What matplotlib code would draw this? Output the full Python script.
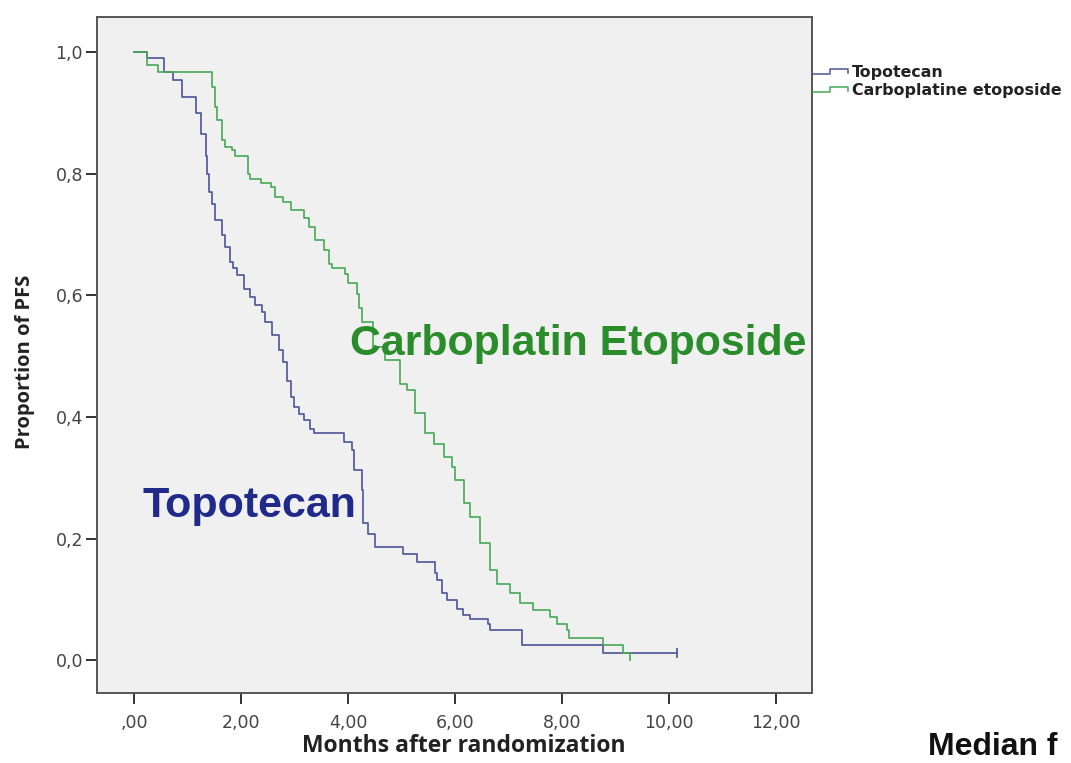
import matplotlib
matplotlib.use("Agg")
import matplotlib.pyplot as plt
from matplotlib.lines import Line2D

# Kaplan-Meier progression-free survival estimates (months, proportion after each step)
topo_months = [0.00, 0.24, 0.55, 0.73, 0.89, 1.15, 1.25, 1.33, 1.36, 1.40, 1.45, 1.51,
               1.64, 1.70, 1.79, 1.85, 1.92, 2.04, 2.17, 2.26, 2.39, 2.45, 2.57, 2.70,
               2.78, 2.85, 2.92, 2.98, 3.07, 3.17, 3.28, 3.35, 3.91, 4.07, 4.10, 4.25,
               4.28, 4.37, 4.50, 5.03, 5.28, 5.62, 5.65, 5.75, 5.85, 6.03, 6.15, 6.28,
               6.62, 6.65, 7.25, 8.77, 10.15]
topo_pfs = [1.000, 0.990, 0.967, 0.954, 0.926, 0.900, 0.865, 0.830, 0.800, 0.770, 0.750, 0.724,
            0.700, 0.680, 0.655, 0.645, 0.633, 0.610, 0.598, 0.585, 0.573, 0.556, 0.535, 0.510,
            0.490, 0.460, 0.433, 0.417, 0.405, 0.395, 0.381, 0.373, 0.359, 0.345, 0.3125, 0.280,
            0.225, 0.208, 0.186, 0.175, 0.162, 0.143, 0.132, 0.110, 0.099, 0.085, 0.074, 0.067,
            0.060, 0.049, 0.025, 0.012, 0.012]

carbo_months = [0.00, 0.24, 0.45, 1.45, 1.50, 1.55, 1.63, 1.70, 1.82, 1.88, 2.13, 2.17,
                2.36, 2.55, 2.63, 2.78, 2.92, 3.17, 3.26, 3.38, 3.54, 3.63, 3.70, 3.94,
                4.00, 4.16, 4.19, 4.25, 4.47, 4.69, 4.97, 5.10, 5.25, 5.44, 5.60, 5.78,
                5.94, 6.00, 6.16, 6.28, 6.47, 6.65, 6.78, 7.03, 7.21, 7.46, 7.78, 7.90,
                8.09, 8.12, 8.77, 9.14, 9.27]
carbo_pfs = [1.000, 0.979, 0.967, 0.943, 0.910, 0.888, 0.855, 0.844, 0.839, 0.830, 0.800, 0.792,
             0.785, 0.778, 0.762, 0.754, 0.740, 0.727, 0.713, 0.691, 0.674, 0.652, 0.645, 0.636,
             0.620, 0.603, 0.580, 0.556, 0.515, 0.493, 0.455, 0.444, 0.406, 0.373, 0.356, 0.334,
             0.318, 0.296, 0.258, 0.236, 0.192, 0.148, 0.126, 0.110, 0.094, 0.083, 0.071, 0.060,
             0.049, 0.036, 0.025, 0.012, 0.012]

x_ticks = [0, 2, 4, 6, 8, 10, 12]
x_tick_labels = [",00", "2,00", "4,00", "6,00", "8,00", "10,00", "12,00"]
y_ticks = [0.0, 0.2, 0.4, 0.6, 0.8, 1.0]
y_tick_labels = ["0,0", "0,2", "0,4", "0,6", "0,8", "1,0"]

series_names = ["Topotecan", "Carboplatine etoposide"]
topo_color = "#4b5596"
carbo_color = "#47a856"

W, H = 1071, 763
fig = plt.figure(figsize=(W / 100, H / 100), dpi=100)
fig.patch.set_facecolor("white")

# axes box in pixel terms
left, right, top, bottom = 97, 812, 17, 693
ax = fig.add_axes([left / W, 1 - bottom / H, (right - left) / W, (bottom - top) / H])
ax.set_facecolor("#f0f0f0")

ax.step(topo_months, topo_pfs, where="post", color=topo_color, lw=1.2)
ax.step(carbo_months, carbo_pfs, where="post", color=carbo_color, lw=1.2)
# censored final observations
ax.plot(topo_months[-1], topo_pfs[-1], marker="|", ms=7, mew=1.2, color=topo_color)
ax.plot(carbo_months[-1], carbo_pfs[-1] - 0.006, marker="|", ms=6, mew=1.2, color=carbo_color)

ax.set_xlim(-0.70, 12.67)
ax.set_ylim(-0.054, 1.058)
ax.set_xticks(x_ticks)
ax.set_xticklabels(x_tick_labels)
ax.set_yticks(y_ticks)
ax.set_yticklabels(y_tick_labels)

for side in ["left", "bottom", "right", "top"]:
    ax.spines[side].set_color("#555555")
    ax.spines[side].set_linewidth(1.4)

ax.tick_params(axis="both", direction="out", length=8, width=1.4, color="#333333",
               labelsize=12.5, labelcolor="#444444")
ax.tick_params(axis="x", pad=7)
ax.tick_params(axis="y", pad=2)
for lab in ax.get_xticklabels() + ax.get_yticklabels():
    lab.set_family("DejaVu Sans")

# axis titles placed at their pixel centres
def fig_pt(px, py):
    return px / W, 1 - py / H

xl_x, xl_y = fig_pt(464, 746)
fig.text(xl_x, xl_y, "Months after randomization", fontsize=16.5, fontweight="bold",
         family="Open Sans", color="#222222", ha="center", va="center")
yl_x, yl_y = fig_pt(25, 362)
fig.text(yl_x, yl_y, "Proportion of PFS", fontsize=14.5, fontweight="bold",
         family="Open Sans", color="#222222", ha="center", va="center", rotation=90)

# in-plot curve labels
ax.text(4.04, 0.502, "Carboplatin Etoposide", fontsize=30.9, fontweight="bold",
        family="Liberation Sans", color="#2a8c2a", ha="left", va="baseline")
ax.text(0.144, 0.236, "Topotecan", fontsize=31, fontweight="bold",
        family="Liberation Sans", color="#1f2a8a", ha="left", va="baseline")

# legend to the right of the plot with step-shaped glyphs
legend_rows = [(series_names[0], topo_color, 72), (series_names[1], carbo_color, 90)]
for name, col, yc in legend_rows:
    xs = [813, 830, 830, 848, 848]
    ys = [yc + 2, yc + 2, yc - 3, yc - 3, yc + 1]
    pts = [fig_pt(a, b) for a, b in zip(xs, ys)]
    fig.add_artist(Line2D([p[0] for p in pts], [p[1] for p in pts],
                          transform=fig.transFigure, color=col, lw=1.1))
    tx, ty = fig_pt(852, yc)
    fig.text(tx, ty, name, fontsize=11.4, fontweight="bold", family="DejaVu Sans",
             color="#222222", ha="left", va="center")

mx, my = fig_pt(928, 755)
fig.text(mx, my, "Median f", fontsize=23, fontweight="bold", family="Liberation Sans",
         color="#111111", ha="left", va="baseline")

fig.savefig("out.png", dpi=100, facecolor="white")
